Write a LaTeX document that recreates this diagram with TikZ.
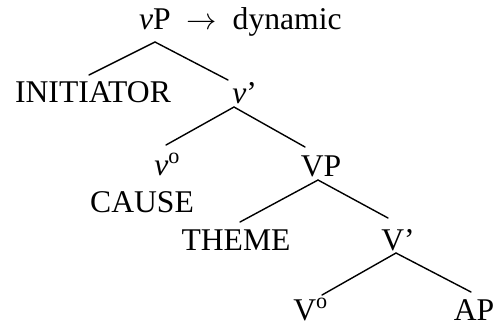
\documentclass[tikz,border=0pt]{standalone}
\usepackage{fontspec}
\setmainfont{Liberation Serif}
\usetikzlibrary{positioning, calc}

\begin{document}
\begin{tikzpicture}[
    x=0.02cm, y=-0.02cm,
    font=\fontsize{18}{21.6}\selectfont,
    lbl/.style={inner sep=0pt, anchor=base},
    branch/.style={line width=0.8pt, line cap=round},
]
\useasboundingbox (0,0) rectangle (496,326);

% =====================================================================
% Labels (placed on their baselines, y grows downwards)
% =====================================================================
\node[lbl] (vP) at (155,29) {\textit{v}P};
\node[lbl, base right=0.3cm of vP] (dyn) {$\rightarrow$\hspace{0.5em}dynamic};

\node[lbl]                   (init)  at ( 93,102) {INITIATOR};
\node[lbl, anchor=base west] (vbar)  at (232,103) {\textit{v}'};

\node[lbl, anchor=base west] (vo)    at (154,175) {\textit{v}\textsuperscript{o}};
\node[lbl]                   (cause) at (142,212) {CAUSE};
\node[lbl]                   (VP)    at (321,176) {VP};

\node[lbl]                   (theme) at (236,250) {THEME};
\node[lbl, anchor=base west] (Vbar)  at (381,250) {V'};

\node[lbl, anchor=base west] (Vo)    at (293,320) {V\textsuperscript{o}};
\node[lbl]                   (AP)    at (474,320) {AP};

% =====================================================================
% Branches: each one goes from just under the mother label down to
% just above its two daughters
% =====================================================================
\draw[branch] ($(init.base)+(-4,-27)$) -- ($(vP.base)+(0,13)$)
    -- ($(vbar.base west)+(-4,-23)$);
\draw[branch] ($(vo.base west)+(12,-30)$) -- ($(vbar.base west)+(2,4)$)
    -- ($(VP.base)+(-16,-29)$);
\draw[branch] ($(theme.base)+(4,-28)$) -- ($(VP.base)+(-3,4)$)
    -- ($(Vbar.base west)+(7,-32)$);
\draw[branch] ($(Vo.base west)+(29,-25)$) -- ($(Vbar.base west)+(15,3)$)
    -- ($(AP.base)+(-3,-28)$);

\end{tikzpicture}
\end{document}
